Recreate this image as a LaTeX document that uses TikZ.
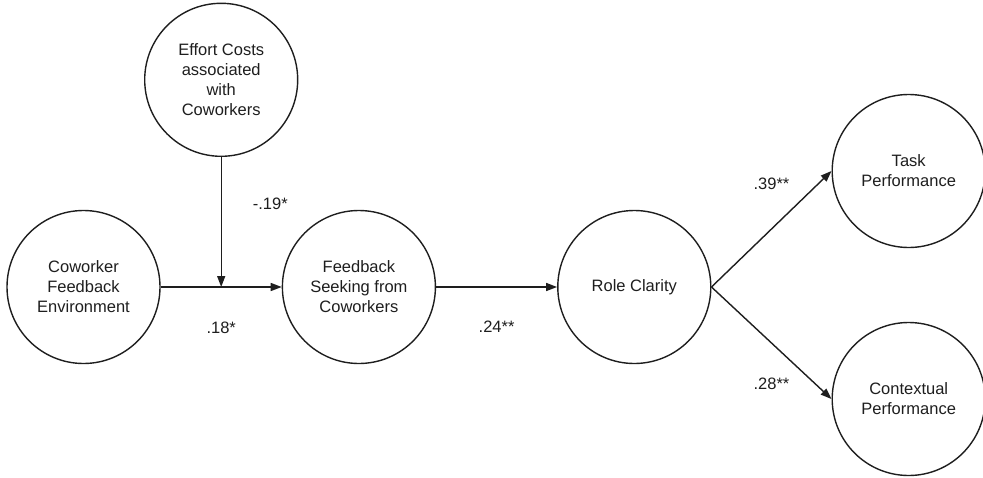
\documentclass[tikz,border=0pt]{standalone}
\usepackage{fontspec}
\setsansfont{Liberation Sans}
\usetikzlibrary{arrows.meta,positioning,calc}
\definecolor{ink}{HTML}{1E1E1E}
\begin{document}
\begin{tikzpicture}[node distance=121pt,
 var/.style={circle,draw=ink,line width=1.4pt,minimum size=153pt,inner sep=0pt,align=center,text=ink,font=\sffamily\fontsize{16.5}{20}\selectfont},
 coef/.style={inner sep=0pt,text=ink,font=\sffamily\fontsize{16.5}{20}\selectfont},
 arr/.style={-{Triangle[length=11pt,width=8pt]},draw=ink,line width=1.4pt}]
\useasboundingbox (0,0) rectangle (983pt,-477pt);
\node[var] (cwe) at (83.5pt,-287pt) {Coworker\\Feedback\\Environment};
\node[var,right=of cwe] (seek) {Feedback\\Seeking from\\Coworkers};
\node[var,right=of seek] (role) {Role Clarity};
\node[var,right=120pt of role,yshift=116pt] (task) {Task\\Performance};
\node[var,right=120pt of role,yshift=-112pt] (ctx) {Contextual\\Performance};
\coordinate (mid) at ($(cwe.east)!.5!(seek.west)$);
\node[var,above=130pt of mid] (effort) {Effort Costs\\associated\\with\\Coworkers};
\draw[arr] (cwe) -- node[coef,below=34pt] (c18) {.18*} (seek);
\draw[arr] (effort) -- node[coef,right=31pt,yshift=18pt] (c19) {-.19*} (mid);
\draw[arr] (seek) -- node[coef,below=33pt] (c24) {.24**} (role);
\draw[arr] (role.east) -- node[coef,above=39pt] (c39) {.39**} (task.west);
\draw[arr] (role.east) -- node[coef,below=34pt] (c28) {.28**} (ctx.west);
\end{tikzpicture}
\end{document}
